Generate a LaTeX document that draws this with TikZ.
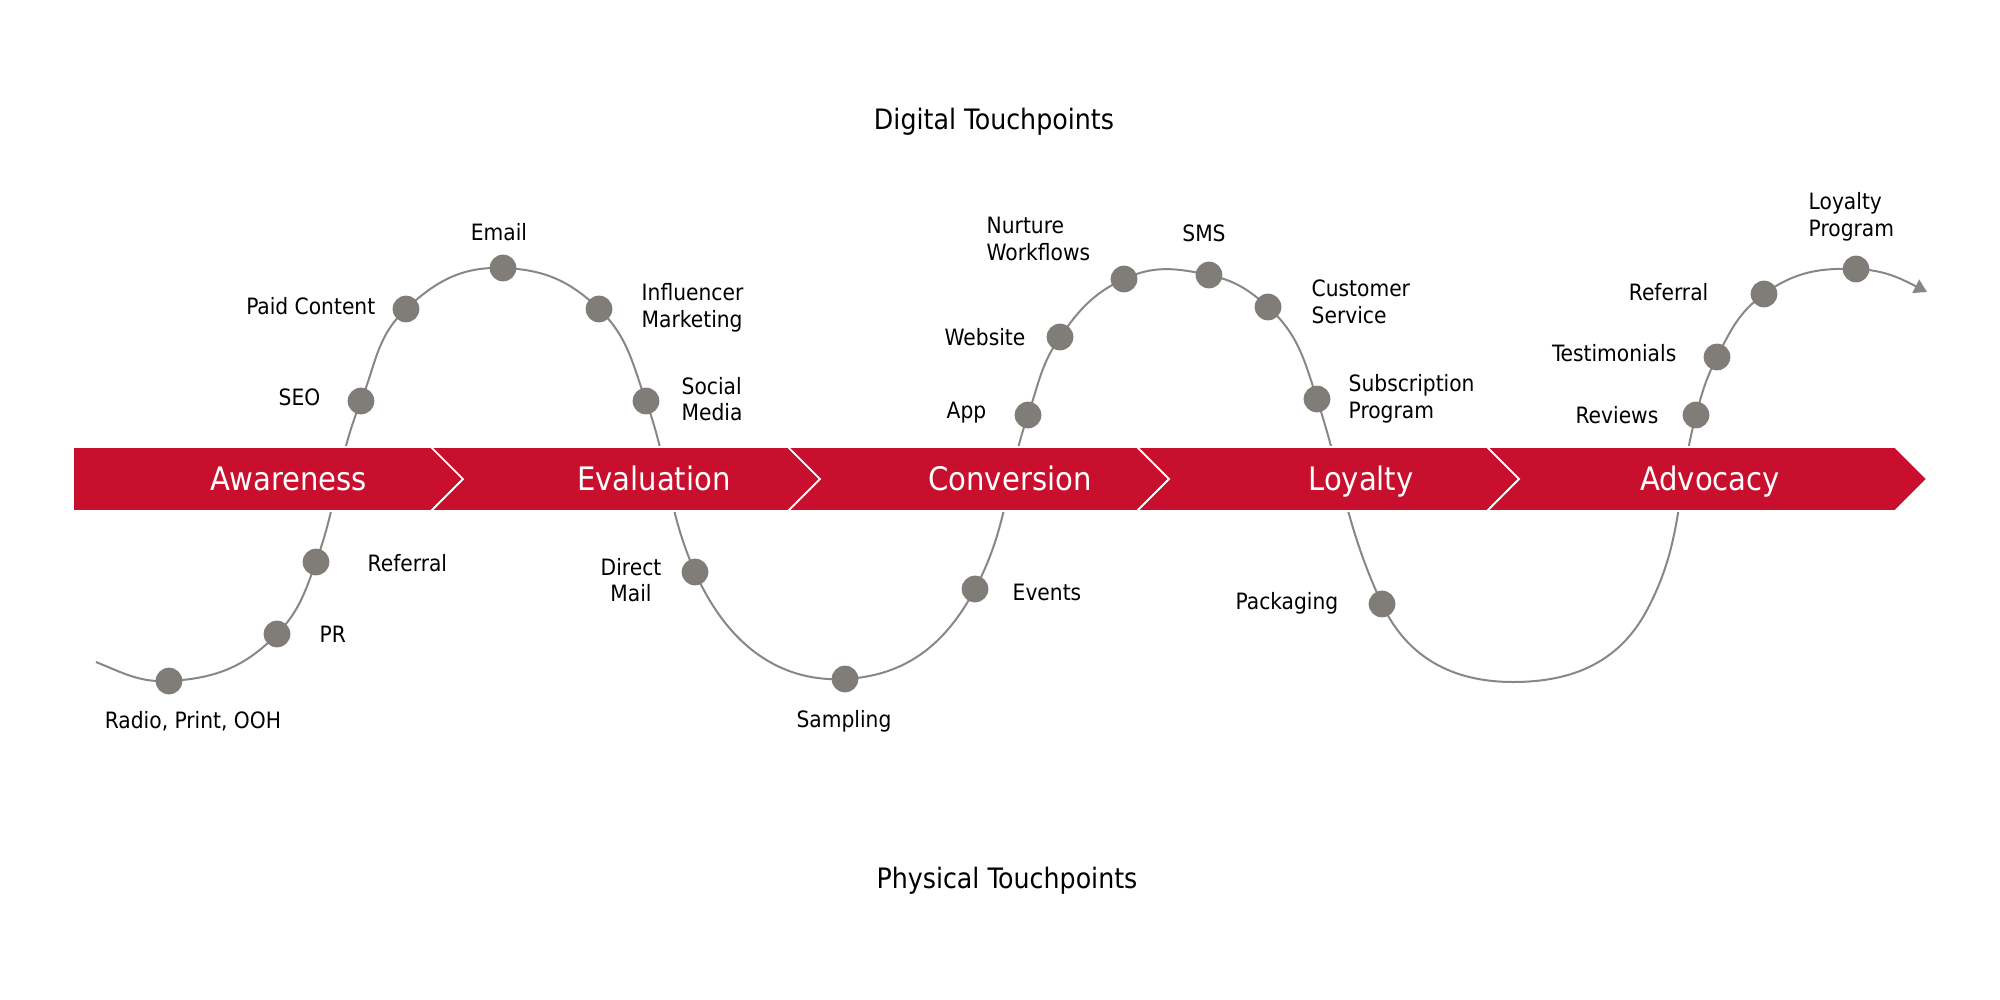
\documentclass[tikz,border=0pt]{standalone}
\usepackage{fontspec}
\setmainfont{DejaVu Sans Condensed}
\usetikzlibrary{arrows.meta}
\usetikzlibrary{backgrounds}

\definecolor{BandRed}{RGB}{200,16,46}
\definecolor{DotGray}{RGB}{128,125,120}
\definecolor{WaveGray}{RGB}{135,135,132}

\tikzset{
    touch/.style={circle, fill=DotGray, minimum size=2.67mm, inner sep=0pt},
    lbl/.style={font=\fontsize{6.4}{7.6}\selectfont, inner sep=0pt, align=left},
    stage/.style={font=\fontsize{9.2}{11}\selectfont, text=white, inner sep=0pt, anchor=base},
    heading/.style={font=\fontsize{8}{10}\selectfont, inner sep=0pt},
    chevron/.style={fill=BandRed, draw=white, line width=0.5pt},
    wave/.style={draw=WaveGray, line width=0.57pt}
}

\begin{document}
\begin{tikzpicture}[x=0.01cm, y=-0.01cm]
        \useasboundingbox (0,0) rectangle (2000,1000);

        % Band geometry
        \def \bandtop {447}
        \def \bandbot {511}
        \def \bandmid {479}
        \def \tip {32}

        % Touchpoints above and below the band
        \node[touch] (radio) at (169,681) {};
        \node[touch] (pr) at (277,634) {};
        \node[touch] (refa) at (316,562) {};
        \node[touch] (seo) at (361,401) {};
        \node[touch] (paid) at (406,309) {};
        \node[touch] (email) at (503,268) {};
        \node[touch] (infl) at (599,309) {};
        \node[touch] (social) at (646,401) {};
        \node[touch] (direct) at (695,572) {};
        \node[touch] (sampling) at (845,679) {};
        \node[touch] (events) at (975,589) {};
        \node[touch] (app) at (1028,415) {};
        \node[touch] (website) at (1060,337) {};
        \node[touch] (nurture) at (1124,279) {};
        \node[touch] (sms) at (1209,275) {};
        \node[touch] (cust) at (1268,307) {};
        \node[touch] (subs) at (1317,399) {};
        \node[touch] (packaging) at (1382,604) {};
        \node[touch] (reviews) at (1696,415) {};
        \node[touch] (testim) at (1717,357) {};
        \node[touch] (refb) at (1764,294) {};
        \node[touch] (loyprog) at (1856,269) {};

        % Free points of the wave
        \coordinate (wavestart) at (96,662);
        \coordinate (trough) at (1513,682);
        \coordinate (bend) at (1647,610);
        \coordinate (waveend) at (1927,292);

        % Wave through the touchpoints
        \begin{scope}[on background layer]
            \draw[wave, -{Triangle[length=3.6pt, width=4.2pt]}]
                (wavestart) to[out=-22, in=183] (radio.center)
                to[out=3, in=226] (pr.center)
                to[out=46, in=250] (refa.center)
                to[out=70, in=248] (seo.center)
                to[out=68, in=223] (paid.center)
                to[out=43, in=178] (email.center)
                to[out=-2, in=136] (infl.center)
                to[out=-44, in=110] (social.center)
                to[out=-70, in=114] (direct.center)
                to[out=-66, in=183] (sampling.center)
                to[out=3, in=242] (events.center)
                to[out=62, in=251] (app.center)
                to[out=71, in=235] (website.center)
                to[out=55, in=205] (nurture.center)
                to[out=25, in=168] (sms.center)
                to[out=-12, in=138] (cust.center)
                to[out=-42, in=108] (subs.center)
                to[out=-72, in=115] (packaging.center)
                to[out=-65, in=180] (trough)
                to[out=0, in=242] (bend)
                to[out=62, in=255] (reviews.center)
                to[out=75, in=243] (testim.center)
                to[out=63, in=216] (refb.center)
                to[out=36, in=178] (loyprog.center)
                to[out=-2, in=153] (waveend);
        \end{scope}

        % Chevron band
        \foreach \xa/\xb [count=\i] in {73/431, 431/788, 788/1137, 1137/1487, 1487/1895} {
            \ifnum \i=1
                \def \notch {0}
            \else
                \def \notch {\tip}
            \fi
            \fill[chevron] (\xa,\bandtop) -- (\xb,\bandtop) -- ({\xb+\tip},\bandmid)
                -- (\xb,\bandbot) -- (\xa,\bandbot) -- ({\xa+\notch},\bandmid) -- cycle;
        }

        \node[stage] (aw) at (289,490) {Awareness};
        \node[stage] (ev) at (654,490) {Evaluation};
        \node[stage] (cv) at (1010,490) {Conversion};
        \node[stage] (ly) at (1361,490) {Loyalty};
        \node[stage] (ad) at (1710,490) {Advocacy};

        % Labels
        \node[lbl] (radio-t) at (193,721) {Radio, Print, OOH};
        \node[lbl, anchor=west] (pr-t) at (319,634) {PR};
        \node[lbl, anchor=west] (refa-t) at (367,563) {Referral};
        \node[lbl, anchor=east] (seo-t) at (321,397) {SEO};
        \node[lbl, anchor=east] (paid-t) at (376,306) {Paid Content};
        \node[lbl] (email-t) at (499,232) {Email};
        \node[lbl, anchor=west] (infl-t) at (641,308) {Influencer\\Marketing};
        \node[lbl, anchor=west] (social-t) at (681,399) {Social\\Media};
        \node[lbl, align=center] (direct-t) at (631,580) {Direct\\Mail};
        \node[lbl] (sampling-t) at (844,721) {Sampling};
        \node[lbl, anchor=west] (events-t) at (1012,592) {Events};
        \node[lbl, anchor=west] (app-t) at (946,413) {App};
        \node[lbl, anchor=west] (website-t) at (944,337) {Website};
        \node[lbl, anchor=west] (nurture-t) at (986,239) {Nurture\\Workflows};
        \node[lbl] (sms-t) at (1204,233) {SMS};
        \node[lbl, anchor=west] (cust-t) at (1311,302) {Customer\\Service};
        \node[lbl, anchor=west] (subs-t) at (1348,399) {Subscription\\Program};
        \node[lbl, anchor=east] (packaging-t) at (1339,603) {Packaging};
        \node[lbl, anchor=east] (reviews-t) at (1659,415) {Reviews};
        \node[lbl, anchor=east] (testim-t) at (1677,353) {Testimonials};
        \node[lbl, anchor=east] (refb-t) at (1709,292) {Referral};
        \node[lbl, anchor=west] (loyprog-t) at (1808,217) {Loyalty\\Program};

        \node[heading] (digital) at (994,122) {Digital Touchpoints};
        \node[heading] (physical) at (1007,881) {Physical Touchpoints};
    \end{tikzpicture}
\end{document}
